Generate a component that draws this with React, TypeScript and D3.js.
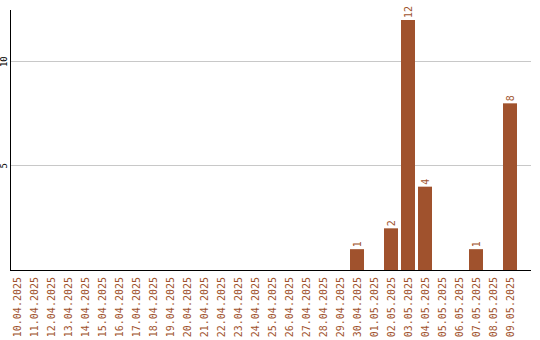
import React from "react";
import * as d3 from "d3";

const dates = [
  "10.04.2025","11.04.2025","12.04.2025","13.04.2025","14.04.2025","15.04.2025",
  "16.04.2025","17.04.2025","18.04.2025","19.04.2025","20.04.2025","21.04.2025",
  "22.04.2025","23.04.2025","24.04.2025","25.04.2025","26.04.2025","27.04.2025",
  "28.04.2025","29.04.2025","30.04.2025","01.05.2025","02.05.2025","03.05.2025",
  "04.05.2025","05.05.2025","06.05.2025","07.05.2025","08.05.2025","09.05.2025",
];
const values = [0,0,0,0,0,0,0,0,0,0,0,0,0,0,0,0,0,0,0,0,1,0,2,12,4,0,0,1,0,8];
const yTicks = [5, 10];

const W = 540, H = 340;
const left = 10, right = 531, top = 10, bottom = 270;
const barColor = "#a0522d";
const font = "'DejaVu Sans Mono', monospace";

export default function App() {
  const x = d3.scaleBand<string>().domain(dates).range([left, right])
    .paddingInner(3 / 17).paddingOuter(0).align(0).round(true);
  const y = d3.scaleLinear().domain([0, (d3.max(values) as number) * 1.04]).range([bottom, top]);
  const bw = x.bandwidth();
  return (
    <svg width={W} height={H} style={{ position: "absolute", left: 0, top: 0, background: "#fff" }}>
      {yTicks.map((t) => (
        <g key={t}>
          <line x1={left + 1} x2={right} y1={Math.floor(y(t)) + 0.5} y2={Math.floor(y(t)) + 0.5} stroke="#c8c8c8" strokeWidth={1} />
          <text transform={`translate(7,${y(t)}) rotate(-90)`} textAnchor="middle" fontFamily={font} fontSize={9} fill="#000">{t}</text>
        </g>
      ))}
      {dates.map((d, i) => {
        const v = values[i];
        const bx = x(d) as number;
        const cx = bx + bw / 2;
        return (
          <g key={d}>
            {v > 0 && (
              <>
                <rect x={bx} y={y(v)} width={bw} height={bottom - y(v)} fill={barColor} />
                <text transform={`translate(${cx},${y(v) - 2}) rotate(-90)`} dy="0.38em" textAnchor="start" fontFamily={font} fontSize={10} fill={barColor}>{v}</text>
              </>
            )}
            <text transform={`translate(${cx},277) rotate(-90)`} dy="0.38em" textAnchor="end" fontFamily={font} fontSize={10} fill={barColor}>{d}</text>
          </g>
        );
      })}
      <line x1={left + 0.5} x2={left + 0.5} y1={top} y2={bottom + 1} stroke="#000" strokeWidth={1} />
      <line x1={left} x2={right} y1={bottom + 0.5} y2={bottom + 0.5} stroke="#000" strokeWidth={1} />
    </svg>
  );
}
